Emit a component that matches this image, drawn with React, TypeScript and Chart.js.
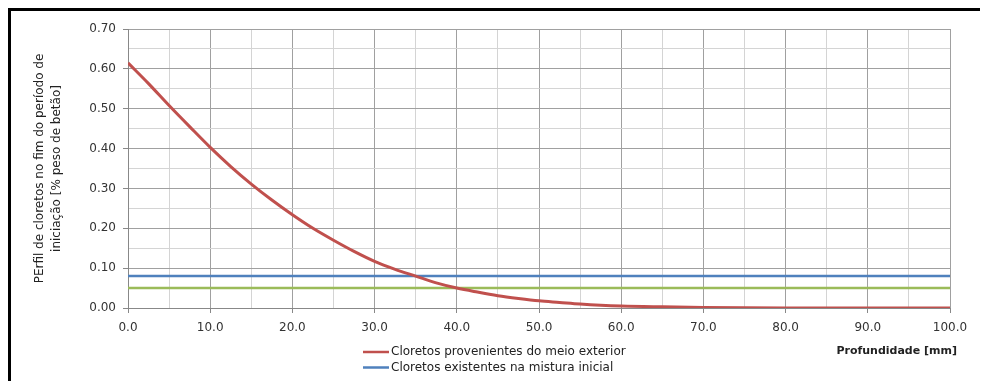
import React, { useEffect, useRef } from "react";
import { Chart, registerables } from "chart.js";

Chart.register(...registerables);

const depths: number[] = [0, 2.5, 5, 7.5, 10, 12.5, 15, 17.5, 20, 22.5, 25, 27.5, 30, 32.5, 35, 37.5, 40, 42.5, 45, 47.5, 50, 52.5, 55, 57.5, 60, 65, 70, 75, 80, 85, 90, 95, 100];
const exteriorChlorides: number[] = [0.615, 0.563, 0.508, 0.455, 0.403, 0.355, 0.311, 0.271, 0.234, 0.2, 0.17, 0.142, 0.117, 0.097, 0.08, 0.063, 0.05, 0.04, 0.031, 0.024, 0.018, 0.014, 0.01, 0.007, 0.005, 0.003, 0.0015, 0.0007, 0.0003, 0.0001, 0, 0, 0];
const initialDepths: number[] = [0, 100];
const initialChlorides: number[] = [0.08, 0.08];
const criticalChlorides: number[] = [0.05, 0.05];

const legendLabels: string[] = ["Cloretos provenientes do meio exterior", "Cloretos existentes na mistura inicial"];
const xTitle = "Profundidade [mm]";
const yTitle: string[] = ["PErfil de cloretos no fim do período de", "iniciação [% peso de betão]"];

const RED = "#C0504D";
const BLUE = "#4F81BD";
const GREEN = "#9BBB59";
const FONT = "'DejaVu Sans', sans-serif";

export default function App() {
  const ref = useRef<HTMLCanvasElement | null>(null);

  useEffect(() => {
    if (!ref.current) return;
    const pts = (xs: number[], ys: number[]) => xs.map((x, i) => ({ x, y: ys[i] }));

    const customPlugin = {
      id: "customText",
      afterDraw(chart: any) {
        const ctx = chart.ctx as CanvasRenderingContext2D;
        ctx.save();
        // x axis title
        ctx.font = `bold 11px ${FONT}`;
        ctx.fillStyle = "#222";
        ctx.textAlign = "right";
        ctx.textBaseline = "middle";
        ctx.fillText(xTitle, 946, 340);
        // legend
        const colors = [RED, BLUE];
        const ys = [341, 356.5];
        ctx.font = `12px ${FONT}`;
        ctx.textAlign = "left";
        legendLabels.forEach((t, i) => {
          ctx.strokeStyle = colors[i];
          ctx.lineWidth = 2.5;
          ctx.beginPath();
          ctx.moveTo(352, ys[i]);
          ctx.lineTo(378, ys[i]);
          ctx.stroke();
          ctx.fillStyle = "#222";
          ctx.fillText(t, 380, ys[i]);
        });
        ctx.restore();
      },
    };

    const isMajorX = (v: number) => Math.round(v) % 10 === 0;
    const isMajorY = (v: number) => Math.round(v * 100) % 10 === 0;

    const chart = new Chart(ref.current, {
      type: "line",
      data: {
        datasets: [
          {
            label: legendLabels[0],
            data: pts(depths, exteriorChlorides),
            borderColor: RED,
            borderWidth: 3,
            pointRadius: 0,
            tension: 0.4,
            cubicInterpolationMode: "monotone",
          },
          {
            label: legendLabels[1],
            data: pts(initialDepths, initialChlorides),
            borderColor: BLUE,
            borderWidth: 2.5,
            pointRadius: 0,
          },
          {
            label: "",
            data: pts(initialDepths, criticalChlorides),
            borderColor: GREEN,
            borderWidth: 2.5,
            pointRadius: 0,
          },
        ],
      },
      options: {
        animation: false,
        responsive: true,
        maintainAspectRatio: false,
        layout: { padding: { left: 0, top: 18, right: 30, bottom: 0 } },
        plugins: { legend: { display: false }, tooltip: { enabled: false } },
        scales: {
          x: {
            type: "linear",
            min: 0,
            max: 100,
            afterFit: (s: any) => {
              s.height = 73;
            },
            ticks: {
              stepSize: 5,
              autoSkip: false,
              maxRotation: 0,
              padding: 8,
              color: "#333",
              font: { family: FONT, size: 12 },
              callback: (v: any) => (isMajorX(Number(v)) ? Number(v).toFixed(1) : ""),
            },
            grid: {
              color: (c: any) => (c.tick && isMajorX(c.tick.value) ? "#a0a0a0" : "#d4d4d4"),
              tickColor: (c: any) => (c.tick && isMajorX(c.tick.value) ? "#888" : "rgba(0,0,0,0)"),
              tickLength: 5,
              lineWidth: 1,
            },
            border: { color: "#888", width: 1 },
          },
          y: {
            type: "linear",
            min: 0,
            max: 0.7,
            afterFit: (s: any) => {
              s.width = 117;
            },
            title: {
              display: true,
              text: yTitle,
              color: "#222",
              font: { family: FONT, size: 12, lineHeight: 1.45 },
              padding: { top: 20, bottom: 0 },
            },
            ticks: {
              stepSize: 0.05,
              autoSkip: false,
              padding: 7,
              color: "#333",
              font: { family: FONT, size: 12 },
              callback: (v: any) => (isMajorY(Number(v)) ? Number(v).toFixed(2) : ""),
            },
            grid: {
              color: (c: any) => (c.tick && isMajorY(c.tick.value) ? "#a0a0a0" : "#d4d4d4"),
              tickColor: (c: any) => (c.tick && isMajorY(c.tick.value) ? "#888" : "rgba(0,0,0,0)"),
              tickLength: 5,
              lineWidth: 1,
            },
            border: { color: "#888", width: 1 },
          },
        },
      },
      plugins: [customPlugin],
    } as any);

    return () => chart.destroy();
  }, []);

  return (
    <div
      style={{
        width: 972,
        height: 373,
        boxSizing: "border-box",
        borderTop: "3px solid #000",
        borderLeft: "3px solid #000",
        position: "relative",
        background: "#fff",
      }}
    >
      <div style={{ position: "absolute", left: 0, top: 0, width: 969, height: 370 }}>
        <canvas ref={ref} />
      </div>
    </div>
  );
}
